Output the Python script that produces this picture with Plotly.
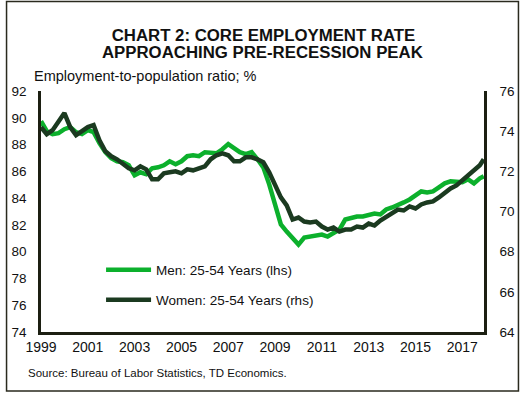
import plotly.graph_objects as go

# Quarterly observations, Jan 1999 .. Oct 2017, plus Dec 2017
dates = [f"{1999 + i // 4}-{(i % 4) * 3 + 1:02d}-01" for i in range(76)] + ["2017-12-01"]

men = [89.75, 89.0, 88.78, 88.85, 89.15, 89.3, 88.93, 88.78, 89.08, 88.93,
       88.1, 87.43, 86.98, 86.75, 86.68, 86.45, 85.7, 85.93, 85.78, 86.23,
       86.3, 86.45, 86.75, 86.53, 86.75, 87.13, 87.2, 87.13, 87.43, 87.35,
       87.35, 87.65, 88.03, 87.73, 87.43, 87.28, 87.43, 86.9, 86.3, 85.03,
       83.38, 82.03, 81.5, 81.05, 80.53, 81.05, 81.13, 81.13, 81.28, 81.13,
       81.43, 81.65, 82.4, 82.55, 82.63, 82.63, 82.78, 82.85, 82.78, 83.15,
       83.3, 83.53, 83.68, 83.9, 84.2, 84.5, 84.43, 84.5, 84.8, 85.1,
       85.25, 85.25, 85.18, 85.4, 85.1, 85.48, 85.63]

women = [74.2, 73.85, 74.05, 74.45, 74.9, 74.2, 73.8, 74.0, 74.2, 74.3,
         73.55, 73.0, 72.75, 72.6, 72.4, 72.15, 72.05, 72.25, 72.1, 71.6,
         71.6, 71.9, 71.95, 72.0, 71.9, 72.1, 72.05, 72.15, 72.25, 72.6,
         72.8, 72.9, 72.8, 72.5, 72.5, 72.7, 72.7, 72.6, 72.45, 71.95,
         71.25, 70.7, 70.3, 69.6, 69.7, 69.5, 69.45, 69.5, 69.25, 69.1,
         69.2, 69.0, 69.1, 69.1, 69.25, 69.2, 69.4, 69.3, 69.55, 69.75,
         69.95, 70.1, 70.05, 70.25, 70.15, 70.35, 70.45, 70.5, 70.7, 70.95,
         71.15, 71.3, 71.55, 71.75, 72.05, 72.3, 72.6]

x_ticks = [f"{y}-01-01" for y in range(1999, 2018, 2)]
x_tick_labels = [str(y) for y in range(1999, 2018, 2)]
left_ticks = list(range(74, 93, 2))
right_ticks = list(range(64, 77, 2))

MEN_COLOR = "#0cb02c"
WOMEN_COLOR = "#1b3a20"
AXIS_COLOR = "#1c1f12"
TEXT_COLOR = "#111111"
FONT = "Liberation Sans, Arial, sans-serif"

fig = go.Figure()
fig.add_trace(go.Scatter(x=dates, y=men, mode="lines", name="Men: 25-54 Years (lhs)",
                         line=dict(color=MEN_COLOR, width=4.5), legend="legend",
                         showlegend=True))
fig.add_trace(go.Scatter(x=dates, y=women, mode="lines", name="Women: 25-54 Years (rhs)",
                         line=dict(color=WOMEN_COLOR, width=4.5), yaxis="y2", legend="legend2",
                         showlegend=True))

W, H = 527, 395
L, R, T, B = 38, 39, 91, 63
pw, ph = W - L - R, H - T - B

def px(x):
    return (x - L) / pw

def py(y):
    return (H - B - y) / ph

fig.update_layout(
    width=W, height=H,
    margin=dict(l=L, r=R, t=T, b=B),
    paper_bgcolor="white", plot_bgcolor="white",
    showlegend=True,
    font=dict(family=FONT, size=13, color=TEXT_COLOR),
    title=dict(text="<b>CHART 2: CORE EMPLOYMENT RATE</b>",
               x=0.5, xanchor="center", y=1 - 35 / H, yanchor="middle",
               font=dict(family=FONT, size=16.8, color=TEXT_COLOR)),
    xaxis=dict(type="date", range=["1999-01-01", "2017-12-05"],
               tickvals=x_ticks, ticktext=x_tick_labels, ticks="",
               showgrid=False, zeroline=False, showline=True,
               linecolor=AXIS_COLOR, linewidth=3, ticklabelstandoff=0,
               tickfont=dict(size=14)),
    yaxis=dict(range=[74, 92], tickvals=left_ticks, ticks="", showgrid=False,
               zeroline=False, showline=True, linecolor=AXIS_COLOR, linewidth=2.5,
               ticklabelstandoff=9, tickfont=dict(size=13.5)),
    yaxis2=dict(range=[64, 76], tickvals=right_ticks, ticks="", overlaying="y",
                side="right", showgrid=False, zeroline=False, showline=True,
                linecolor=AXIS_COLOR, linewidth=2.5, ticklabelstandoff=10,
                tickfont=dict(size=13.5)),
    legend=dict(x=px(99), y=py(270), xanchor="left", yanchor="middle", visible=True,
                bgcolor="rgba(0,0,0,0)", font=dict(size=13.5), itemwidth=45),
    legend2=dict(x=px(99), y=py(300), xanchor="left", yanchor="middle", visible=True,
                 bgcolor="rgba(0,0,0,0)", font=dict(size=13.5), itemwidth=45),
    shapes=[dict(type="rect", xref="paper", yref="paper",
                 x0=px(3), x1=px(523), y0=py(391), y1=py(1.5),
                 line=dict(color="#2a2a1e", width=1.5), fillcolor="rgba(0,0,0,0)")],
    annotations=[
        dict(text="<b>APPROACHING PRE-RECESSION PEAK</b>", xref="paper", yref="paper",
             x=px(263.5), y=py(52.5), xanchor="center", yanchor="middle", showarrow=False,
             font=dict(size=16.8)),
        dict(text="Employment-to-population ratio; %", xref="paper", yref="paper",
             x=px(29), y=py(76), xanchor="left", yanchor="middle", showarrow=False,
             font=dict(size=14.5)),
        dict(text="Source: Bureau of Labor Statistics, TD Economics.", xref="paper", yref="paper",
             x=px(23), y=py(373), xanchor="left", yanchor="middle", showarrow=False,
             font=dict(size=11.5)),
    ],
)

fig.write_html(
    "out.html",
    config={"displayModeBar": False},
    post_script="document.body.style.margin='0';document.body.style.overflow='hidden';",
)
